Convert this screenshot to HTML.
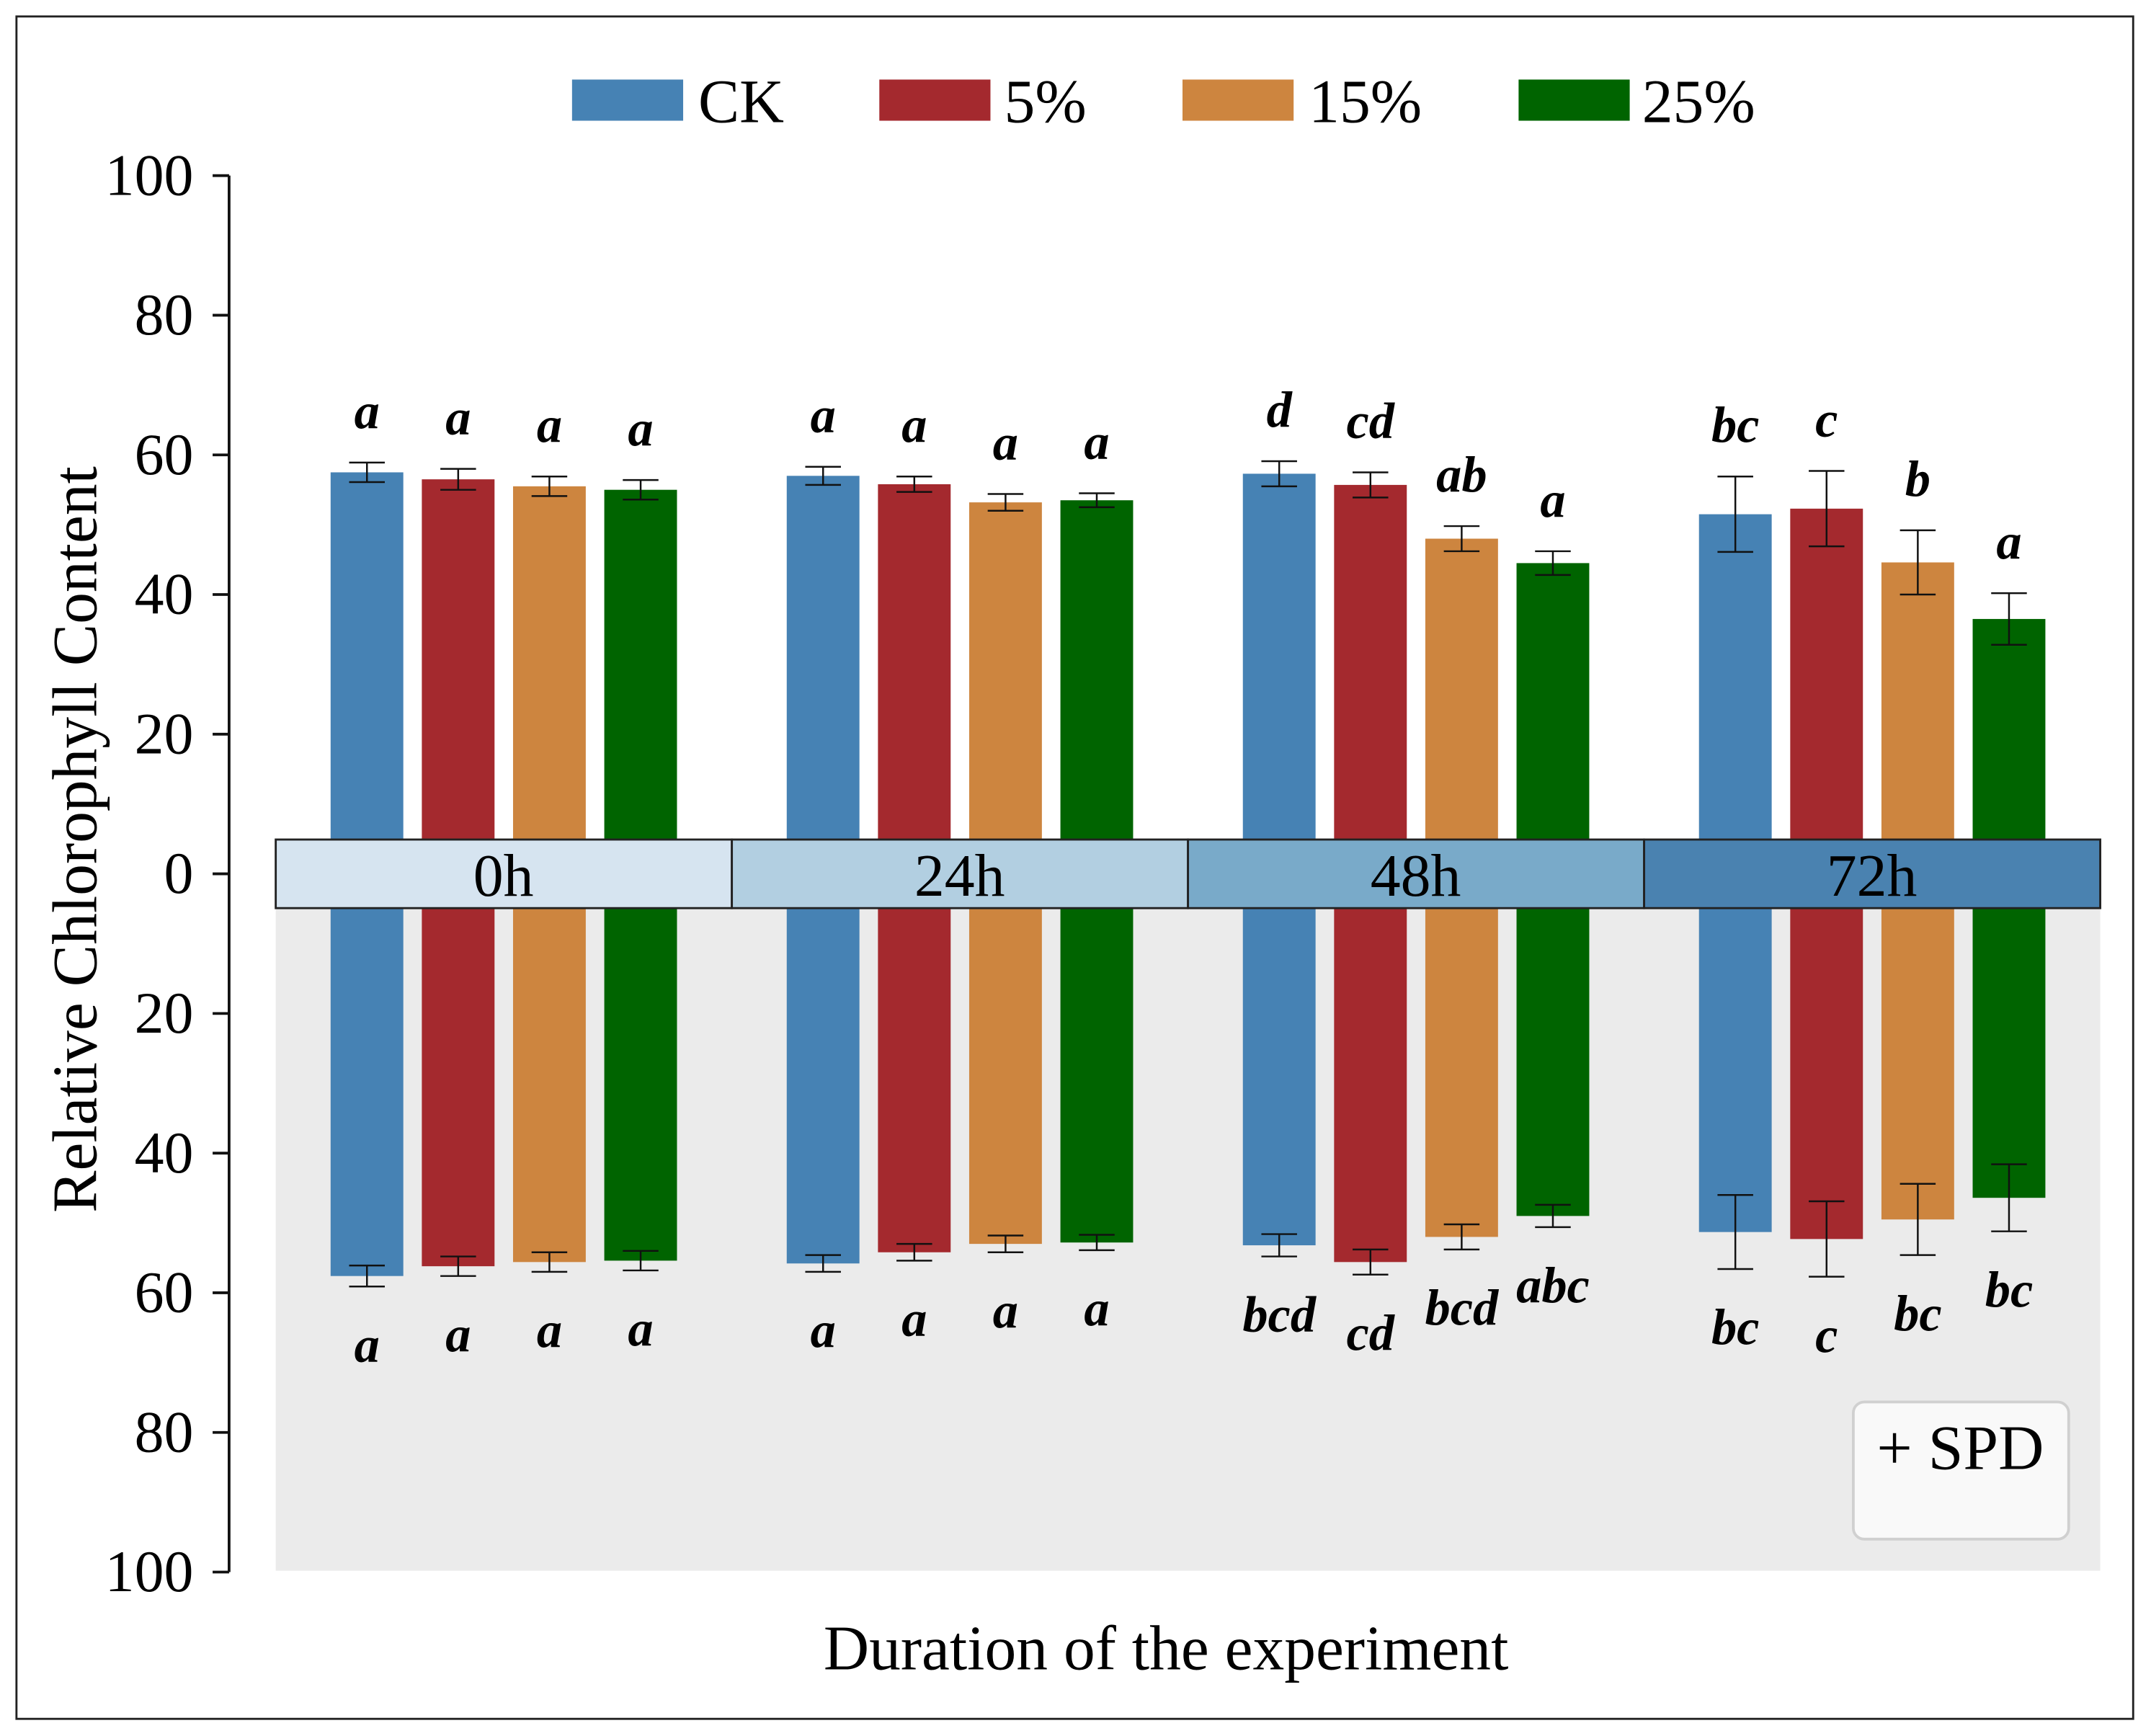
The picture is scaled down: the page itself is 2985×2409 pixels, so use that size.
<!DOCTYPE html>
<html><head><meta charset="utf-8"><style>
html,body{margin:0;padding:0;background:#fff}
svg{display:block}
text{font-family:"Liberation Serif",serif}
</style></head><body>
<svg id="chart" width="2985" height="2409" viewBox="0 0 1568 1265.5" preserveAspectRatio="none" xmlns="http://www.w3.org/2000/svg">
<rect x="12" y="12" width="1543" height="1241" fill="#fff" stroke="#222" stroke-width="1.5"/>
<rect x="201" y="662" width="1330" height="483" fill="#ebebeb"/>
<g id="bars"></g>
<g id="band"></g>
<g id="yaxis"></g>
<g font-size="45">
<rect x="417" y="58" width="81" height="30" fill="#4682b4"/>
<text x="509" y="89">CK</text>
<rect x="641" y="58" width="81" height="30" fill="#a4292e"/>
<text x="732" y="89">5%</text>
<rect x="862" y="58" width="81" height="30" fill="#cd853f"/>
<text x="954" y="89">15%</text>
<rect x="1107" y="58" width="81" height="30" fill="#006400"/>
<text x="1197" y="89">25%</text>
</g>
<text transform="translate(70,612) rotate(-90)" text-anchor="middle" font-size="46">Relative Chlorophyll Content</text>
<text x="850" y="1217" text-anchor="middle" font-size="46">Duration of the experiment</text>
<g>
<rect x="1351" y="1022" width="157" height="100" rx="8" fill="#f9f9f9" stroke="#d0d0d0" stroke-width="2"/>
<text x="1429" y="1071" text-anchor="middle" font-size="46">+ SPD</text>
</g>
</svg>
<script>
const groups = ['0h','24h','48h','72h'];
const series = ['CK','5%','15%','25%'];
const topValues = [[57.5,56.5,55.5,55],[57,55.8,53.2,53.5],[57.3,55.7,48,44.5],[51.5,52.3,44.6,36.5]];
const topErrors = [[1.4,1.5,1.4,1.4],[1.3,1.1,1.2,1.0],[1.8,1.8,1.8,1.7],[5.4,5.4,4.6,3.7]];
const topLetters = [['a','a','a','a'],['a','a','a','a'],['d','cd','ab','a'],['bc','c','b','a']];
const botValues = [[57.6,56.2,55.6,55.4],[55.8,54.2,53,52.8],[53.2,55.6,52,49],[51.3,52.3,49.5,46.4]];
const botErrors = [[1.5,1.4,1.4,1.4],[1.2,1.2,1.2,1.1],[1.6,1.8,1.8,1.6],[5.3,5.4,5.1,4.8]];
const botLetters = [['a','a','a','a'],['a','a','a','a'],['bcd','cd','bcd','abc'],['bc','c','bc','bc']];
const yTicks = [100,80,60,40,20,0,-20,-40,-60,-80,-100];
const colors = ['#4682b4','#a4292e','#cd853f','#006400'];
const bandColors = ['#d6e4f0','#b2cfe1','#79aac9','#4a82b0'];

const NS='http://www.w3.org/2000/svg';
const zeroY=637, pxPerUnit=5.09, bandTop=612, bandBot=662;
const y = v => zeroY - v*pxPerUnit;
const groupX = g => 201 + g*332.5;
const barX = (g,s) => groupX(g) + 40 + s*66.5;
const barW = 53;
function mk(tag, attrs, parent){const e=document.createElementNS(NS,tag);for(const k in attrs)e.setAttribute(k,attrs[k]);parent.appendChild(e);return e;}
const bars=document.getElementById('bars'), band=document.getElementById('band'), yaxis=document.getElementById('yaxis');

groups.forEach((gname,g)=>{
  series.forEach((sname,s)=>{
    const x=barX(g,s), cx=x+barW/2;
    const tv=topValues[g][s], te=topErrors[g][s];
    const r1=mk('rect',{x:x,y:y(tv),width:barW,height:bandTop-y(tv),fill:colors[s]},bars);
    
    
    const eg=mk('g',{stroke:'#111','stroke-width':1.3},bars);
    
    
    mk('line',{x1:cx,x2:cx,y1:y(tv+te),y2:y(tv-te)},eg);
    mk('line',{x1:cx-13,x2:cx+13,y1:y(tv+te),y2:y(tv+te)},eg);
    mk('line',{x1:cx-13,x2:cx+13,y1:y(tv-te),y2:y(tv-te)},eg);
    const t1=mk('text',{x:cx,y:y(tv+te)-25,'text-anchor':'middle','font-size':37,'font-weight':'bold','font-style':'italic'},bars);
    t1.textContent=topLetters[g][s];
    
    
    const bv=botValues[g][s], be=botErrors[g][s];
    const yb=zeroY+bv*pxPerUnit;
    const r2=mk('rect',{x:x,y:bandBot,width:barW,height:yb-bandBot,fill:colors[s]},bars);
    
    
    const eg2=mk('g',{stroke:'#111','stroke-width':1.3},bars);
    
    
    const e1=zeroY+(bv-be)*pxPerUnit, e2=zeroY+(bv+be)*pxPerUnit;
    mk('line',{x1:cx,x2:cx,y1:e1,y2:e2},eg2);
    mk('line',{x1:cx-13,x2:cx+13,y1:e1,y2:e1},eg2);
    mk('line',{x1:cx-13,x2:cx+13,y1:e2,y2:e2},eg2);
    const t2=mk('text',{x:cx,y:e2+55,'text-anchor':'middle','font-size':37,'font-weight':'bold','font-style':'italic'},bars);
    t2.textContent=botLetters[g][s];
    
    
  });
  const br=mk('rect',{x:groupX(g),y:bandTop,width:332.5,height:bandBot-bandTop,fill:bandColors[g],stroke:'#222','stroke-width':1.5},band);
  
  
  const bt=mk('text',{x:groupX(g)+166,y:653,'text-anchor':'middle','font-size':44},band);
  bt.textContent=gname;
  
  
});

const axl=mk('line',{x1:167,x2:167,y1:y(100),y2:y(-100),stroke:'#111','stroke-width':2},yaxis);


yTicks.forEach(v=>{
  const tk=mk('line',{x1:155,x2:167,y1:y(v),y2:y(v),stroke:'#111','stroke-width':2},yaxis);
  
  
  const tl=mk('text',{x:141,y:y(v)+14,'text-anchor':'end','font-size':43},yaxis);
  tl.textContent=Math.abs(v);
  
  
});
</script>
</body></html>
